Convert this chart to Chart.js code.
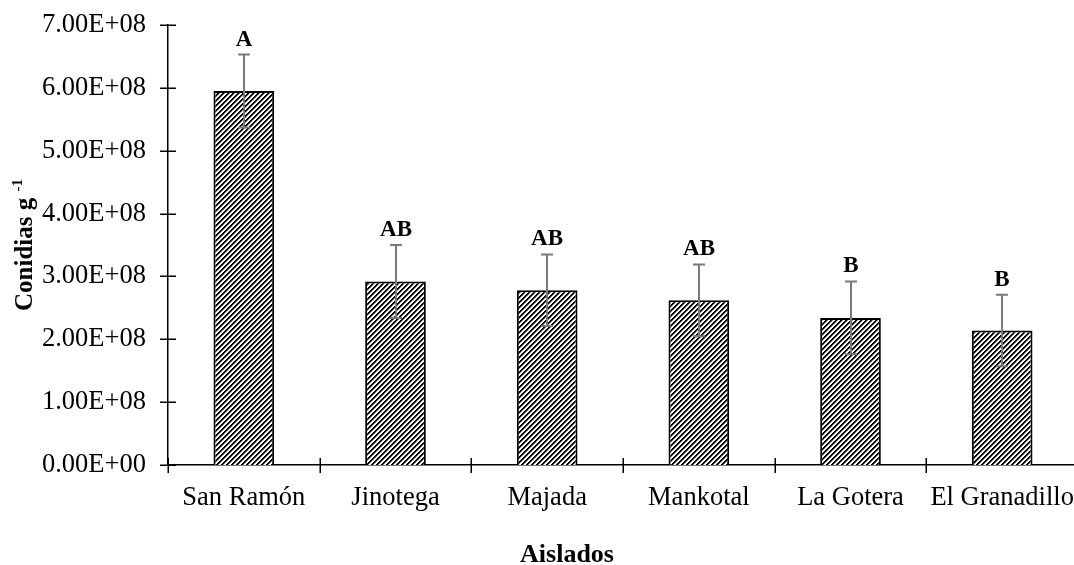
<!DOCTYPE html>
<html>
<head>
<meta charset="utf-8">
<script src="https://cdn.jsdelivr.net/npm/chart.js@4.4.1/dist/chart.umd.min.js"></script>
<style>
  html, body { margin: 0; padding: 0; background: #fff; overflow: hidden; }
  #wrap { width: 1080px; height: 565px; }
</style>
</head>
<body>
<div id="wrap"><canvas id="chart" width="1080" height="565"></canvas></div>
<script>
// Conidia yield per isolate (mean ± error) with Tukey grouping letters
const categories = ['San Ramón', 'Jinotega', 'Majada', 'Mankotal', 'La Gotera', 'El Granadillo'];
const means = [5.95e8, 2.92e8, 2.78e8, 2.62e8, 2.34e8, 2.14e8];
const errors = [0.58e8, 0.58e8, 0.57e8, 0.57e8, 0.58e8, 0.57e8];
const letters = ['A', 'AB', 'AB', 'AB', 'B', 'B'];
const yTicks = [0, 1e8, 2e8, 3e8, 4e8, 5e8, 6e8, 7e8];

const FONT = "'Liberation Serif', 'Times New Roman', serif";

// "7.00E+08" style scientific labels
function sci(v) {
  if (v === 0) return '0.00E+00';
  const e = Math.floor(Math.log10(Math.abs(v)));
  const m = (v / Math.pow(10, e)).toFixed(2);
  return m + 'E' + (e >= 0 ? '+' : '-') + String(Math.abs(e)).padStart(2, '0');
}

// Diagonal hatch fill for the bars
function hatch() {
  const c = document.createElement('canvas');
  const p = 5;
  c.width = p; c.height = p;
  const g = c.getContext('2d');
  const img = g.createImageData(p, p);
  for (let y = 0; y < p; y++) {
    for (let x = 0; x < p; x++) {
      const k = (x + y) % p;
      const v = (k === 0 || k === 1) ? 0 : (k === 2 ? 140 : 255);
      const i = (y * p + x) * 4;
      img.data[i] = v; img.data[i + 1] = v; img.data[i + 2] = v; img.data[i + 3] = 255;
    }
  }
  g.putImageData(img, 0, 0);
  return g.createPattern(c, 'repeat');
}

// Tick marks crossing both axes, error bars, group letters and axis titles
const decorations = {
  id: 'decorations',
  afterDatasetsDraw(chart) {
    const ctx = chart.ctx;
    const xs = chart.scales.x, ys = chart.scales.y;
    const area = chart.chartArea;
    ctx.save();

    // error bars
    const meta = chart.getDatasetMeta(0);
    ctx.strokeStyle = '#7a7a7a';
    ctx.lineWidth = 2;
    meta.data.forEach((bar, i) => {
      const x = Math.round(bar.x);
      const yt = ys.getPixelForValue(means[i] + errors[i]);
      const yb = ys.getPixelForValue(means[i] - errors[i]);
      ctx.beginPath();
      ctx.moveTo(x, yt); ctx.lineTo(x, yb);
      ctx.moveTo(x - 6, yt); ctx.lineTo(x + 6, yt);
      ctx.moveTo(x - 6, yb); ctx.lineTo(x + 6, yb);
      ctx.stroke();

      // grouping letter
      ctx.fillStyle = '#000';
      ctx.font = 'bold 23px ' + FONT;
      ctx.textAlign = 'center';
      ctx.textBaseline = 'alphabetic';
      ctx.fillText(letters[i], x, yt - 9);
    });

    // tick marks
    ctx.strokeStyle = '#000';
    ctx.lineWidth = 1.5;
    ctx.beginPath();
    ys.ticks.forEach(t => {
      const y = Math.round(ys.getPixelForValue(t.value)) + 0.25;
      ctx.moveTo(area.left - 8, y); ctx.lineTo(area.left + 8, y);
    });
    const step = xs.getPixelForValue(1) - xs.getPixelForValue(0);
    for (let i = 0; i <= categories.length; i++) {
      const x = Math.round(xs.getPixelForValue(0) - step / 2 + i * step) + 0.25;
      ctx.moveTo(x, area.bottom - 7); ctx.lineTo(x, area.bottom + 8);
    }
    ctx.stroke();

    // y axis title with superscript
    ctx.fillStyle = '#000';
    ctx.translate(32, (area.top + area.bottom) / 2);
    ctx.rotate(-Math.PI / 2);
    ctx.font = 'bold 25px ' + FONT;
    const main = 'Conidias g ';
    const wMain = ctx.measureText(main).width;
    ctx.font = 'bold 15px ' + FONT;
    const sup = '-1';
    const wSup = ctx.measureText(sup).width;
    const start = -(wMain + wSup) / 2;
    ctx.textAlign = 'left';
    ctx.textBaseline = 'alphabetic';
    ctx.font = 'bold 25px ' + FONT;
    ctx.fillText(main, start, 0);
    ctx.font = 'bold 15px ' + FONT;
    ctx.fillText(sup, start + wMain, -10);
    ctx.restore();

    // x axis title
    ctx.save();
    ctx.fillStyle = '#000';
    ctx.font = 'bold 26px ' + FONT;
    ctx.textAlign = 'center';
    ctx.textBaseline = 'alphabetic';
    ctx.fillText('Aislados', 567, 562);
    ctx.restore();
  }
};

new Chart(document.getElementById('chart'), {
  type: 'bar',
  data: {
    labels: categories,
    datasets: [{
      data: means,
      backgroundColor: hatch(),
      borderColor: '#000',
      borderWidth: 2,
      borderSkipped: 'bottom',
      barPercentage: 0.4,
      categoryPercentage: 1.0
    }]
  },
  options: {
    responsive: false,
    devicePixelRatio: 1,
    animation: false,
    layout: { padding: { left: 0, right: 2, top: 25, bottom: 0 } },
    plugins: { legend: { display: false }, tooltip: { enabled: false } },
    scales: {
      x: {
        offset: true,
        grid: { display: false, drawTicks: false },
        border: { display: true, color: '#000', width: 1.5 },
        ticks: { color: '#000', font: { family: FONT, size: 26.5 }, padding: 17, maxRotation: 0, autoSkip: false },
        afterFit(s) { s.height = 100; s.paddingLeft = 0; s.paddingRight = 0; }
      },
      y: {
        min: 0,
        max: 7e8,
        afterBuildTicks(s) { s.ticks = yTicks.map(v => ({ value: v })); },
        grid: { display: false, drawTicks: false },
        border: { display: true, color: '#000', width: 1.5 },
        ticks: { color: '#000', font: { family: FONT, size: 26.5 }, padding: 22, callback: v => sci(v) },
        afterFit(s) { s.width = 168; s.paddingTop = 0; s.paddingBottom = 0; }
      }
    }
  },
  plugins: [decorations]
});
</script>
</body>
</html>
